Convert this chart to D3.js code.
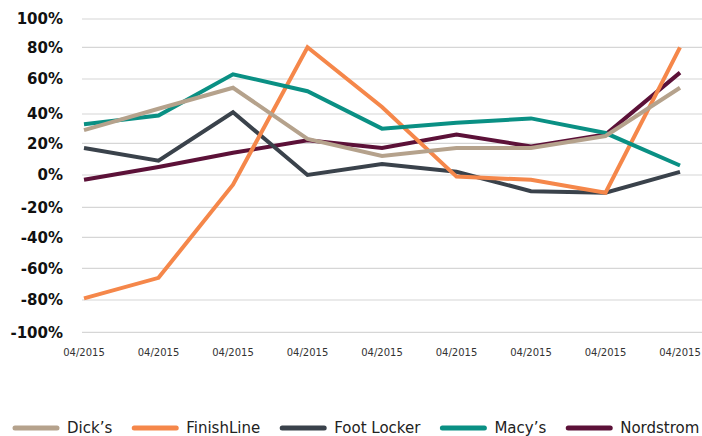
<!DOCTYPE html>
<html>
<head>
<meta charset="utf-8">
<script src="https://cdn.jsdelivr.net/npm/d3@7"></script>
<style>
  html, body { margin: 0; padding: 0; background: #ffffff; }
  svg { display: block; }
</style>
</head>
<body>
<svg id="chart" width="702" height="436"></svg>
<script>
// ---- data ----
const categories = ["04/2015","04/2015","04/2015","04/2015","04/2015","04/2015","04/2015","04/2015","04/2015"];
const yTicks = [100, 80, 60, 40, 20, 0, -20, -40, -60, -80, -100];
const seriesNames = ["Dick’s", "FinishLine", "Foot Locker", "Macy’s", "Nordstrom"];
const seriesColors = ["#b5a28c", "#f5874a", "#3a424b", "#0a9084", "#5c1138"];
const dicks      = [29, 43, 55, 23, 12, 17, 17, 25, 55];
const finishLine = [-79, -66, -6, 80, 44, -1, -3, -11, 80];
const footLocker = [17, 9, 41, 0, 7, 2, -10, -11, 2];
const macys      = [33, 39, 63, 53, 30, 34, 37, 27, 6];
const nordstrom  = [-3, 5, 14, 22, 17, 26, 18, 26, 64];
const seriesValues = [dicks, finishLine, footLocker, macys, nordstrom];
// stacking order of the drawn lines (bottom to top)
const drawOrder = [4, 2, 1, 3, 0];

// ---- layout ----
const svg = d3.select("#chart");
const gridLeft = 82, gridRight = 702;

const x = d3.scalePoint()
  .domain(d3.range(categories.length))
  .range([84, 680]);

// gridline positions as measured in reference (slightly uneven spacing)
const y = d3.scaleLinear()
  .domain([-100, -80, -60, -40, -20, 0, 20, 40, 60, 80, 100])
  .range([332.3, 300, 268.3, 237.3, 207.3, 175, 143.3, 114, 79, 47.3, 19]);

// gridlines
svg.append("g")
  .selectAll("line")
  .data(yTicks)
  .join("line")
  .attr("x1", gridLeft)
  .attr("x2", gridRight)
  .attr("y1", d => y(d))
  .attr("y2", d => y(d))
  .attr("stroke", "#d6d6d6")
  .attr("stroke-width", 1.2);

// y labels
svg.append("g")
  .selectAll("text")
  .data(yTicks)
  .join("text")
  .attr("x", 63)
  .attr("y", d => y(d))
  .attr("dy", "0.36em")
  .attr("text-anchor", "end")
  .attr("font-family", "DejaVu Sans, sans-serif")
  .attr("font-weight", "bold")
  .attr("font-size", 15)
  .attr("fill", "#111")
  .text(d => d + "%");

// x labels
svg.append("g")
  .selectAll("text")
  .data(categories)
  .join("text")
  .attr("x", (d, i) => x(i))
  .attr("y", 356)
  .attr("text-anchor", "middle")
  .attr("font-family", "DejaVu Sans, sans-serif")
  .attr("font-size", 10)
  .attr("fill", "#333")
  .text(d => d);

// lines
const line = d3.line()
  .x((d, i) => x(i))
  .y(d => y(d));

svg.append("g")
  .selectAll("path")
  .data(drawOrder)
  .join("path")
  .attr("d", k => line(seriesValues[k]))
  .attr("fill", "none")
  .attr("stroke", k => seriesColors[k])
  .attr("stroke-width", 4)
  .attr("stroke-linejoin", "miter")
  .attr("stroke-linecap", "butt");

// legend
const legend = svg.append("g");
let lx = 13;
seriesNames.forEach((name, i) => {
  const g = legend.append("g").attr("transform", `translate(${lx},428)`);
  g.append("line")
    .attr("x1", 2).attr("x2", 44)
    .attr("y1", 0).attr("y2", 0)
    .attr("stroke", seriesColors[i])
    .attr("stroke-width", 5)
    .attr("stroke-linecap", "round");
  const t = g.append("text")
    .attr("x", 54)
    .attr("y", 0)
    .attr("dy", "0.36em")
    .attr("font-family", "DejaVu Sans, sans-serif")
    .attr("font-size", 15)
    .attr("fill", "#222")
    .text(name);
  const w = t.node().getComputedTextLength();
  lx += 54 + w + 20;
});
</script>
</body>
</html>
